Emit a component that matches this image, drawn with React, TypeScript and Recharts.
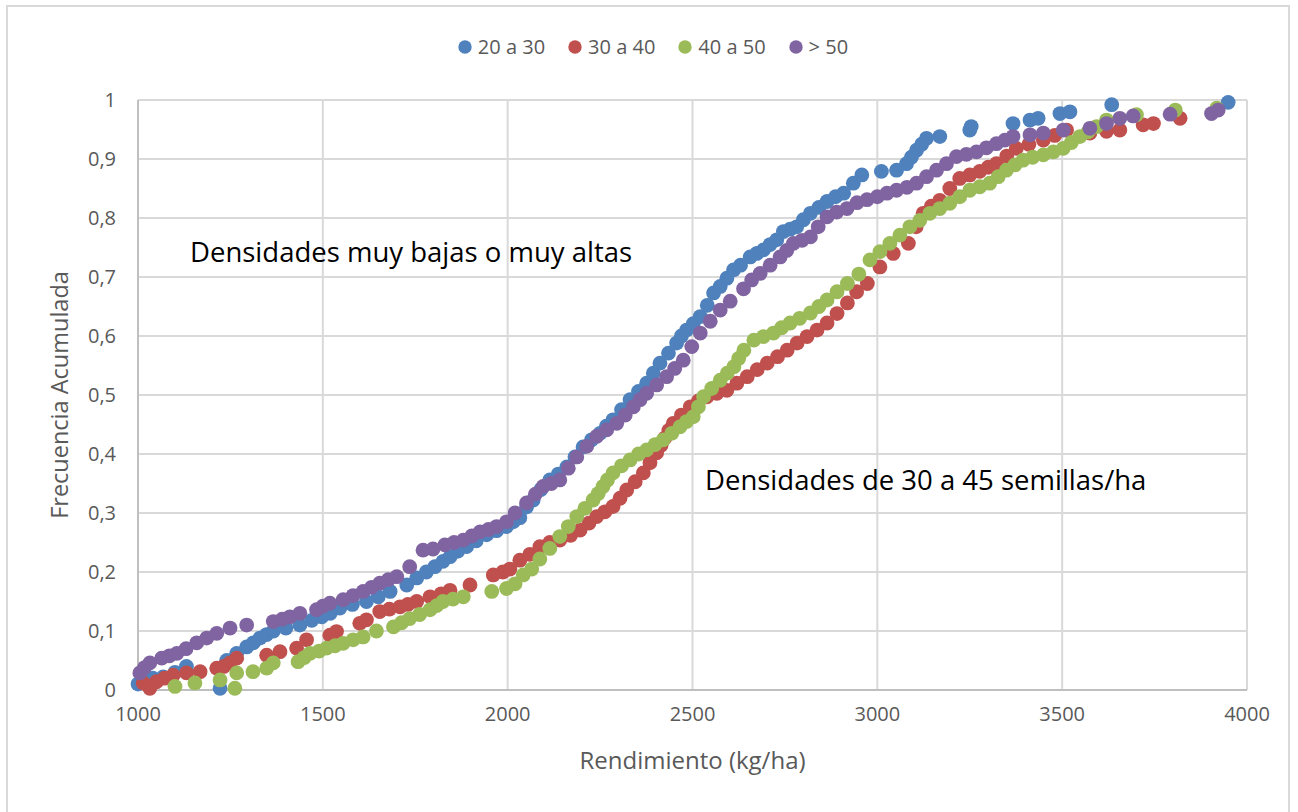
import {
  ScatterChart,
  Scatter,
  XAxis,
  YAxis,
  CartesianGrid,
  Legend,
} from 'recharts';

// Rendimiento (kg/ha) vs frecuencia acumulada
const serie20a30: [number, number][] = [
  [1000, 0.01], [1018, 0.018], [1040, 0.02], [1068, 0.022], [1100, 0.03], [1131, 0.04],
  [1222, 0.003], [1240, 0.05], [1267, 0.062], [1294, 0.073], [1312, 0.08], [1330, 0.088],
  [1348, 0.094], [1366, 0.1], [1400, 0.105], [1438, 0.11], [1470, 0.118], [1497, 0.124],
  [1520, 0.13], [1546, 0.139], [1580, 0.145], [1618, 0.15], [1650, 0.158], [1682, 0.167],
  [1727, 0.178], [1754, 0.19], [1780, 0.2], [1803, 0.209], [1825, 0.218], [1844, 0.226],
  [1865, 0.235], [1889, 0.243], [1915, 0.253], [1943, 0.263], [1970, 0.27], [1997, 0.277],
  [2015, 0.285], [2033, 0.292], [2051, 0.31], [2069, 0.322], [2090, 0.34], [2114, 0.356],
  [2137, 0.366], [2160, 0.378], [2182, 0.395], [2204, 0.412], [2227, 0.424], [2250, 0.435],
  [2267, 0.447], [2285, 0.458], [2308, 0.475], [2331, 0.492], [2354, 0.506], [2376, 0.52],
  [2394, 0.537], [2412, 0.554], [2435, 0.571], [2457, 0.588], [2470, 0.6], [2484, 0.61],
  [2502, 0.621], [2521, 0.633], [2540, 0.652], [2557, 0.673], [2575, 0.684], [2593, 0.698],
  [2611, 0.712], [2630, 0.72], [2656, 0.734], [2674, 0.74], [2692, 0.746], [2710, 0.755],
  [2728, 0.763], [2746, 0.777], [2764, 0.781], [2782, 0.785], [2800, 0.797], [2819, 0.808],
  [2842, 0.818], [2864, 0.828], [2887, 0.836], [2909, 0.842], [2935, 0.859], [2958, 0.873],
  [3011, 0.879], [3052, 0.881], [3079, 0.892], [3092, 0.903], [3106, 0.915], [3120, 0.925],
  [3133, 0.935], [3169, 0.938], [3250, 0.949], [3254, 0.955], [3367, 0.96], [3413, 0.966],
  [3435, 0.969], [3494, 0.977], [3521, 0.98], [3634, 0.992], [3949, 0.996],
];

const serie30a40: [number, number][] = [
  [1014, 0.012], [1032, 0.003], [1050, 0.014], [1072, 0.02], [1095, 0.025], [1131, 0.029],
  [1168, 0.031], [1213, 0.037], [1232, 0.04], [1249, 0.046], [1267, 0.054], [1348, 0.059],
  [1384, 0.065], [1429, 0.071], [1456, 0.085], [1519, 0.093], [1537, 0.099], [1600, 0.113],
  [1618, 0.119], [1654, 0.133], [1680, 0.137], [1709, 0.141], [1730, 0.145], [1754, 0.15],
  [1790, 0.158], [1820, 0.163], [1844, 0.169], [1898, 0.178], [1961, 0.195], [1987, 0.2],
  [2006, 0.205], [2033, 0.22], [2060, 0.23], [2087, 0.243], [2114, 0.25], [2141, 0.254],
  [2170, 0.262], [2196, 0.271], [2220, 0.283], [2241, 0.294], [2263, 0.302], [2285, 0.311],
  [2304, 0.325], [2322, 0.339], [2345, 0.353], [2367, 0.368], [2385, 0.385], [2403, 0.402],
  [2415, 0.415], [2425, 0.427], [2436, 0.44], [2448, 0.452], [2470, 0.466], [2494, 0.48],
  [2516, 0.49], [2539, 0.497], [2566, 0.503], [2593, 0.508], [2620, 0.52], [2648, 0.531],
  [2675, 0.543], [2702, 0.554], [2730, 0.565], [2756, 0.576], [2783, 0.588], [2810, 0.599],
  [2837, 0.61], [2864, 0.622], [2891, 0.638], [2919, 0.656], [2944, 0.675], [2973, 0.689],
  [3007, 0.717], [3043, 0.74], [3084, 0.757], [3105, 0.785], [3124, 0.808], [3146, 0.82],
  [3169, 0.83], [3196, 0.85], [3223, 0.867], [3250, 0.873], [3277, 0.879], [3300, 0.886],
  [3322, 0.892], [3350, 0.905], [3376, 0.918], [3410, 0.925], [3449, 0.932], [3480, 0.94],
  [3512, 0.949], [3575, 0.944], [3620, 0.947], [3656, 0.949], [3719, 0.958], [3747, 0.96],
  [3819, 0.969],
];

const serie40a50: [number, number][] = [
  [1100, 0.006], [1154, 0.012], [1222, 0.017], [1262, 0.003], [1267, 0.029], [1311, 0.031],
  [1348, 0.037], [1366, 0.046], [1433, 0.048], [1450, 0.055], [1465, 0.062], [1490, 0.066],
  [1510, 0.071], [1533, 0.075], [1555, 0.079], [1582, 0.085], [1609, 0.09], [1645, 0.1],
  [1691, 0.107], [1713, 0.114], [1735, 0.121], [1762, 0.128], [1790, 0.136], [1808, 0.143],
  [1825, 0.15], [1852, 0.154], [1880, 0.158], [1957, 0.167], [1997, 0.172], [2020, 0.18],
  [2042, 0.195], [2065, 0.205], [2087, 0.222], [2114, 0.24], [2141, 0.26], [2164, 0.277],
  [2187, 0.294], [2209, 0.308], [2231, 0.322], [2245, 0.333], [2258, 0.345], [2270, 0.356],
  [2285, 0.368], [2308, 0.38], [2331, 0.39], [2354, 0.4], [2376, 0.407], [2399, 0.416],
  [2421, 0.424], [2444, 0.435], [2466, 0.446], [2484, 0.455], [2502, 0.463], [2516, 0.48],
  [2530, 0.497], [2552, 0.511], [2575, 0.525], [2594, 0.537], [2612, 0.548], [2625, 0.562],
  [2639, 0.576], [2666, 0.593], [2692, 0.599], [2719, 0.605], [2741, 0.614], [2764, 0.622],
  [2790, 0.63], [2819, 0.639], [2842, 0.65], [2864, 0.661], [2891, 0.675], [2919, 0.689],
  [2950, 0.705], [2980, 0.729], [3007, 0.743], [3034, 0.757], [3061, 0.771], [3088, 0.785],
  [3115, 0.796], [3142, 0.808], [3169, 0.816], [3196, 0.825], [3223, 0.836], [3250, 0.847],
  [3277, 0.853], [3304, 0.859], [3327, 0.87], [3349, 0.881], [3372, 0.89], [3394, 0.898],
  [3420, 0.903], [3449, 0.907], [3476, 0.912], [3503, 0.918], [3525, 0.928], [3548, 0.938],
  [3570, 0.946], [3593, 0.955], [3620, 0.966], [3701, 0.975], [3806, 0.983], [3918, 0.986],
];

const serieMas50: [number, number][] = [
  [1005, 0.029], [1018, 0.038], [1032, 0.046], [1064, 0.054], [1085, 0.058], [1105, 0.062],
  [1130, 0.07], [1159, 0.08], [1186, 0.088], [1213, 0.096], [1249, 0.105], [1294, 0.11],
  [1366, 0.116], [1390, 0.12], [1411, 0.124], [1438, 0.13], [1483, 0.136], [1500, 0.142],
  [1519, 0.147], [1555, 0.153], [1582, 0.16], [1609, 0.167], [1632, 0.174], [1654, 0.181],
  [1677, 0.187], [1700, 0.192], [1735, 0.209], [1771, 0.237], [1798, 0.239], [1830, 0.246],
  [1855, 0.25], [1880, 0.254], [1903, 0.261], [1925, 0.268], [1948, 0.272], [1970, 0.277],
  [1997, 0.285], [2020, 0.3], [2051, 0.317], [2075, 0.332], [2096, 0.345], [2118, 0.35],
  [2141, 0.356], [2164, 0.376], [2187, 0.395], [2214, 0.413], [2241, 0.43], [2268, 0.441],
  [2295, 0.452], [2318, 0.466], [2340, 0.48], [2358, 0.492], [2376, 0.503], [2403, 0.517],
  [2430, 0.531], [2452, 0.545], [2475, 0.559], [2498, 0.582], [2521, 0.605], [2548, 0.625],
  [2575, 0.644], [2602, 0.659], [2638, 0.68], [2660, 0.695], [2683, 0.706], [2710, 0.72],
  [2737, 0.734], [2755, 0.745], [2773, 0.757], [2796, 0.762], [2819, 0.768], [2840, 0.785],
  [2864, 0.802], [2890, 0.81], [2918, 0.816], [2945, 0.826], [2972, 0.831], [3000, 0.836],
  [3026, 0.842], [3052, 0.847], [3080, 0.852], [3106, 0.859], [3133, 0.87], [3160, 0.881],
  [3187, 0.892], [3214, 0.904], [3241, 0.908], [3268, 0.912], [3295, 0.919], [3322, 0.926],
  [3345, 0.932], [3367, 0.938], [3413, 0.941], [3449, 0.944], [3503, 0.949], [3575, 0.952],
  [3620, 0.96], [3656, 0.969], [3692, 0.973], [3792, 0.976], [3904, 0.977], [3922, 0.983],
];

const xTicks = [1000, 1500, 2000, 2500, 3000, 3500, 4000];
const yTicks = [0, 0.1, 0.2, 0.3, 0.4, 0.5, 0.6, 0.7, 0.8, 0.9, 1];

const series = [
  { name: '20 a 30', color: '#4f81bd', points: serie20a30 },
  { name: '30 a 40', color: '#c0504d', points: serie30a40 },
  { name: '40 a 50', color: '#9bbb59', points: serie40a50 },
  { name: '> 50', color: '#8064a2', points: serieMas50 },
];

const FONT = '"Open Sans", "Noto Sans", sans-serif';
const GRAY = '#595959';

const fmtY = (v: number) => (v === 0 ? '0' : v === 1 ? '1' : v.toFixed(1).replace('.', ','));

function Dot(props: any) {
  const { cx, cy, fill } = props;
  if (cx == null || cy == null) return null;
  return <circle cx={cx} cy={cy} r={7.4} fill={fill} />;
}

function LegendContent() {
  return (
    <div
      style={{
        display: 'flex',
        justifyContent: 'center',
        gap: 23,
        fontFamily: FONT,
        fontSize: 20,
        color: GRAY,
      }}
    >
      {series.map((s) => (
        <div key={s.name} style={{ display: 'flex', alignItems: 'center' }}>
          <svg width={14} height={14} style={{ marginRight: 6 }}>
            <circle cx={7} cy={7} r={6.7} fill={s.color} />
          </svg>
          <span>{s.name}</span>
        </div>
      ))}
    </div>
  );
}

export default function App() {
  return (
    <div
      style={{
        position: 'absolute',
        left: 0,
        top: 0,
        width: 1298,
        height: 812,
        background: '#fff',
        fontFamily: FONT,
        overflow: 'hidden',
      }}
    >
      <div
        style={{
          position: 'absolute',
          left: 6,
          top: 5,
          width: 1284,
          height: 830,
          border: '2px solid #d9d9d9',
          boxSizing: 'border-box',
        }}
      />
      <ScatterChart
        width={1298}
        height={812}
        margin={{ top: 100, right: 51, bottom: 0, left: 0 }}
        style={{ position: 'absolute', left: 0, top: 0 }}
      >
        <CartesianGrid stroke="#d9d9d9" strokeWidth={2} />
        <XAxis
          type="number"
          dataKey="x"
          domain={[1000, 4000]}
          ticks={xTicks}
          height={122}
          tickLine={false}
          axisLine={{ stroke: '#bfbfbf', strokeWidth: 2 }}
          tickMargin={11}
          tick={{ fill: GRAY, fontSize: 20, fontFamily: FONT }}
          label={{
            value: 'Rendimiento (kg/ha)',
            position: 'insideTop',
            offset: 62,
            fill: GRAY,
            fontSize: 24,
            fontFamily: FONT,
          }}
        />
        <YAxis
          type="number"
          dataKey="y"
          domain={[0, 1]}
          ticks={yTicks}
          width={138}
          tickLine={false}
          axisLine={{ stroke: '#bfbfbf', strokeWidth: 2 }}
          tickMargin={16}
          tickFormatter={fmtY}
          tick={{ fill: GRAY, fontSize: 20, fontFamily: FONT }}
          label={{
            value: 'Frecuencia Acumulada',
            angle: -90,
            position: 'insideLeft',
            offset: 60,
            fill: GRAY,
            fontSize: 23.5,
            fontFamily: FONT,
            style: { textAnchor: 'middle' },
          }}
        />
        <Legend
          layout="horizontal"
          verticalAlign="middle"
          content={<LegendContent />}
          wrapperStyle={{ top: 33, left: 0, width: 1306 }}
        />
        {series.map((s) => (
          <Scatter
            key={s.name}
            name={s.name}
            data={s.points.map(([x, y]) => ({ x, y }))}
            fill={s.color}
            shape={<Dot />}
            isAnimationActive={false}
          />
        ))}
      </ScatterChart>
      <div
        style={{
          position: 'absolute',
          left: 190,
          top: 233,
          fontSize: 27.5,
          color: '#000',
          whiteSpace: 'nowrap',
        }}
      >
        Densidades muy bajas o muy altas
      </div>
      <div
        style={{
          position: 'absolute',
          left: 705,
          top: 461,
          fontSize: 27.5,
          color: '#000',
          whiteSpace: 'nowrap',
        }}
      >
        Densidades de 30 a 45 semillas/ha
      </div>
    </div>
  );
}
